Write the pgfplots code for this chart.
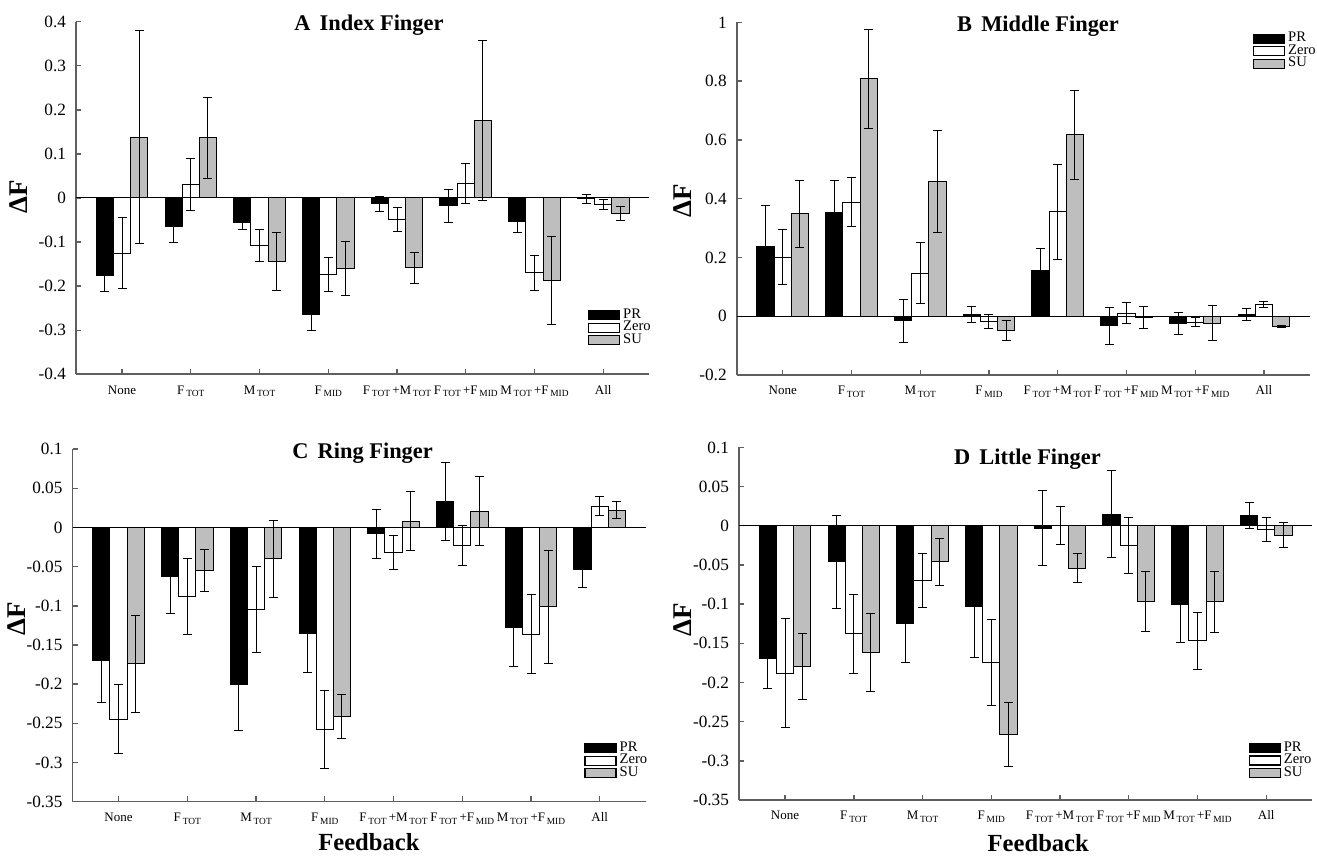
\documentclass[border=0pt]{standalone}
\usepackage{fontspec}
\setmainfont{Liberation Serif}
\usepackage{pgfplots}
\usepackage{pgfplotstable}
\pgfplotsset{compat=1.18}
\newcommand\sub[1]{\hspace{0.9pt}\raisebox{-0.45ex}{\fontsize{4.7}{5}\selectfont #1}}
\definecolor{sugray}{RGB}{190,190,190}
\definecolor{axgray}{RGB}{95,95,95}

\pgfplotstableread{
cat PR PRe Zero Zeroe SU SUe
0 -0.175 0.037 -0.125 0.080 0.138 0.241
1 -0.065 0.035 0.030 0.059 0.137 0.092
2 -0.055 0.016 -0.108 0.037 -0.145 0.066
3 -0.265 0.035 -0.174 0.039 -0.160 0.062
4 -0.013 0.017 -0.048 0.027 -0.158 0.035
5 -0.018 0.037 0.033 0.046 0.176 0.181
6 -0.054 0.024 -0.170 0.039 -0.188 0.100
7 -0.002 0.010 -0.014 0.011 -0.036 0.016
}\dataA
\pgfplotstableread{
cat PR PRe Zero Zeroe SU SUe
0 0.237 0.140 0.201 0.093 0.348 0.114
1 0.353 0.108 0.388 0.084 0.808 0.169
2 -0.015 0.073 0.147 0.104 0.459 0.173
3 0.007 0.027 -0.018 0.024 -0.050 0.034
4 0.157 0.072 0.356 0.162 0.617 0.152
5 -0.033 0.064 0.010 0.036 -0.004 0.038
6 -0.026 0.037 -0.020 0.016 -0.024 0.060
7 0.005 0.021 0.039 0.010 -0.034 0.003
}\dataB
\pgfplotstableread{
cat PR PRe Zero Zeroe SU SUe
0 -0.170 0.054 -0.245 0.044 -0.174 0.062
1 -0.063 0.047 -0.088 0.049 -0.055 0.027
2 -0.201 0.058 -0.105 0.055 -0.040 0.049
3 -0.135 0.050 -0.258 0.050 -0.241 0.028
4 -0.008 0.031 -0.032 0.022 0.008 0.038
5 0.033 0.050 -0.023 0.026 0.021 0.044
6 -0.128 0.050 -0.136 0.050 -0.101 0.072
7 -0.054 0.023 0.027 0.012 0.022 0.011
}\dataC
\pgfplotstableread{
cat PR PRe Zero Zeroe SU SUe
0 -0.169 0.039 -0.188 0.069 -0.180 0.042
1 -0.046 0.059 -0.138 0.050 -0.162 0.050
2 -0.125 0.050 -0.070 0.034 -0.046 0.030
3 -0.103 0.065 -0.175 0.055 -0.266 0.041
4 -0.003 0.048 0.000 0.024 -0.054 0.018
5 0.015 0.055 -0.025 0.036 -0.097 0.038
6 -0.100 0.049 -0.147 0.036 -0.097 0.039
7 0.013 0.017 -0.005 0.015 -0.012 0.016
}\dataD

\pgfplotsset{
 fing/.style={
  scale only axis, width=286.65pt, height=176.3pt,
  xmin=-0.67, xmax=7.67,
  clip mode=individual,
  axis lines*=left,
  axis line style={axgray, line width=0.8pt},
  tick align=inside,
  major tick length=2.7pt,
  tick style={axgray, line width=0.7pt},
  xtick={0,...,7},
  xticklabels={None, F\sub{TOT}, M\sub{TOT}, F\sub{MID}, F\sub{TOT}\hspace{1.1pt}+M\sub{TOT}, F\sub{TOT}\hspace{1.1pt}+F\sub{MID}, M\sub{TOT}\hspace{1.1pt}+F\sub{MID}, All},
  xticklabel style={font=\fontsize{6.5}{7}\selectfont, anchor=base, yshift=-10pt},
  yticklabel style={font=\fontsize{8.6}{9}\selectfont, xshift=-1.5pt},
  extra y ticks={0}, extra y tick labels={},
  extra y tick style={grid=major, major grid style={black, line width=0.5pt}, major tick length=0pt},
  legend style={draw=none, fill=none, anchor=north west, inner sep=0pt, outer sep=0pt,
    font=\fontsize{7.3}{7.3}\selectfont, row sep=0pt, column sep=1.5pt,
    nodes={inner sep=0pt, outer sep=0pt, text height=4.6pt, text depth=1.65pt}},
  legend cell align=left,
 },
 bars/.style={ybar, bar width=0.25, bar shift=0, line width=0.5pt, draw=black,
  error bars/.cd, y dir=both, y explicit,
  error bar style={black, line width=0.5pt},
  error mark options={rotate=90, black, mark size=2.25pt, line width=0.5pt},
  /pgfplots/.cd,
  legend image code/.code={\draw[#1, line width=0.6pt] (0pt,-2.25pt) rectangle (15.5pt,2.25pt);}},
 pr/.style={bars, fill=black},
 zr/.style={bars, fill=white},
 su/.style={bars, fill=sugray},
}
\tikzset{
 ttl/.style={anchor=base, font=\bfseries\fontsize{11.2}{11}\selectfont},
 yl/.style={anchor=base, rotate=90, font=\bfseries\fontsize{13.5}{13.5}\selectfont},
 fb/.style={anchor=base, font=\bfseries\fontsize{12.3}{12}\selectfont},
}
\newcommand\threeseries[1]{%
\addplot[pr] table[x expr=\thisrow{cat}-0.25, y=PR, y error=PRe] {#1};
\addplot[zr] table[x expr=\thisrow{cat}, y=Zero, y error=Zeroe] {#1};
\addplot[su] table[x expr=\thisrow{cat}+0.25, y=SU, y error=SUe] {#1};
\legend{PR,Zero,SU}}
\begin{document}
\begin{tikzpicture}
\useasboundingbox (0,0) rectangle (658.5pt,428pt);
% ---------------- A
\begin{axis}[fing, at={(38pt,240.85pt)}, anchor=south west,
  ymin=-0.4, ymax=0.4,
  ytick={-0.4,-0.3,-0.2,-0.1,0,0.1,0.2,0.3,0.4},
  yticklabels={-0.4,-0.3,-0.2,-0.1,0,0.1,0.2,0.3,0.4},
  legend style={at={(0.893,0.185)}}]
\threeseries{\dataA}
\node[ttl] at (axis description cs:0.511,0.976) {A\hspace{4.6pt}Index Finger};
\node[yl] at (axis description cs:-0.0848,0.503) {ΔF};
\end{axis}
% ---------------- B
\begin{axis}[fing, at={(368.35pt,240.5pt)}, anchor=south west,
  ymin=-0.2, ymax=1,
  ytick={-0.2,0,0.2,0.4,0.6,0.8,1},
  yticklabels={-0.2,0,0.2,0.4,0.6,0.8,1},
  legend style={at={(0.9006,0.971)}}]
\threeseries{\dataB}
\node[ttl] at (axis description cs:0.5256,0.974) {B\hspace{4.6pt}Middle Finger};
\node[yl] at (axis description cs:-0.0787,0.495) {ΔF};
\end{axis}
% ---------------- C
\begin{axis}[fing, at={(36.25pt,27.15pt)}, anchor=south west,
  ymin=-0.35, ymax=0.1,
  ytick={-0.35,-0.3,-0.25,-0.2,-0.15,-0.1,-0.05,0,0.05,0.1},
  yticklabels={-0.35,-0.3,-0.25,-0.2,-0.15,-0.1,-0.05,0,0.05,0.1},
  legend style={at={(0.893,0.169)}}]
\threeseries{\dataC}
\node[ttl] at (axis description cs:0.506,0.9726) {C\hspace{4.6pt}Ring Finger};
\node[yl] at (axis description cs:-0.0822,0.52) {ΔF};
\node[fb] at (axis description cs:0.517,-0.137) {Feedback};
\end{axis}
% ---------------- D
\begin{axis}[fing, at={(369.5pt,28pt)}, anchor=south west,
  ymin=-0.35, ymax=0.1,
  ytick={-0.35,-0.3,-0.25,-0.2,-0.15,-0.1,-0.05,0,0.05,0.1},
  yticklabels={-0.35,-0.3,-0.25,-0.2,-0.15,-0.1,-0.05,0,0.05,0.1},
  legend style={at={(0.889,0.165)}}]
\threeseries{\dataD}
\node[ttl] at (axis description cs:0.503,0.951) {D\hspace{4.6pt}Little Finger};
\node[yl] at (axis description cs:-0.0828,0.511) {ΔF};
\node[fb] at (axis description cs:0.522,-0.145) {Feedback};
\end{axis}
\end{tikzpicture}
\end{document}
